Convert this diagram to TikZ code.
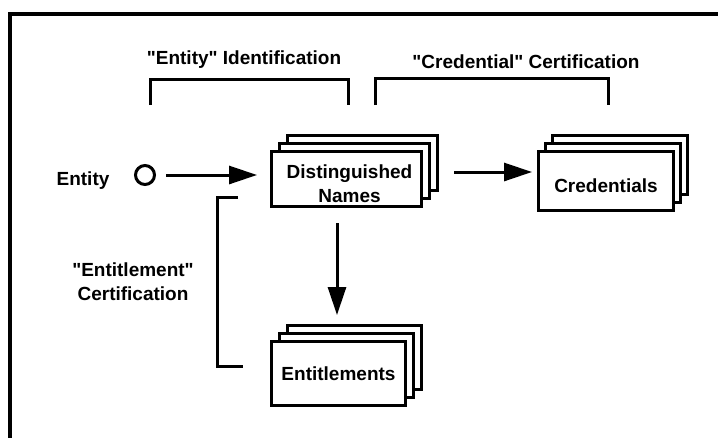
\documentclass[tikz,border=0pt]{standalone}
\usepackage{fontspec}
\setmainfont{Liberation Sans}[Ligatures=TeXOff]
\usetikzlibrary{arrows.meta}

\begin{document}
\begin{tikzpicture}[x=1pt, y=-1pt,
  every node/.style={font=\fontsize{19}{24}\selectfont\bfseries},
  card/.style={draw, line width=3pt, fill=white, inner sep=0pt, align=center},
  bracket/.style={line width=3pt, line join=miter},
  arr/.style={line width=3pt, -{Triangle[length=28pt,width=18pt]}},
  txt/.style={anchor=base, align=center}]

  % page and outer frame
  \fill[white] (0,0) rectangle (718,437);
  \useasboundingbox (0,0) rectangle (718,437);
  \draw[line width=4pt, line join=miter] (10,445) -- (10,14) -- (725,14);

  % headings over the brackets
  \node[txt] (hdid) at (244,64) {"Entity" Identification};
  \node[txt] (hdcr) at (526,68) {"Credential" Certification};
  \draw[bracket] (150,105) -- (150,79) -- (348,79) -- (348,105);
  \draw[bracket] (375,105) -- (375,78) -- (608,78) -- (608,105);

  % entity
  \node[txt] (entlbl) at (83,185) {Entity};
  \node[circle, draw, line width=3pt, minimum size=19pt, inner sep=0pt] (circ) at (145,175) {};

  % distinguished names stack
  \node[card, minimum width=150pt, minimum height=55pt] (dnb2) at (362.5,163) {};
  \node[card, minimum width=150pt, minimum height=55pt] (dnb1) at (354.5,171) {};
  \node[card, minimum width=150pt, minimum height=55pt,
        label={[align=center, yshift=-5pt, xshift=3pt]center:{Distinguished\\Names}}] (dn) at (346.5,179) {};

  % credentials stack
  \node[card, minimum width=135pt, minimum height=59pt] (crb2) at (620,165) {};
  \node[card, minimum width=135pt, minimum height=59pt] (crb1) at (613,173) {};
  \node[card, minimum width=135pt, minimum height=59pt, text height=22pt, text depth=0pt] (cred) at (606,181) {Credentials};

  % entitlements stack
  \node[card, minimum width=134pt, minimum height=64pt] (enb2) at (354.5,357.5) {};
  \node[card, minimum width=134pt, minimum height=64pt] (enb1) at (346.5,365.5) {};
  \node[card, minimum width=134pt, minimum height=64pt] (ent) at (338.5,373.5) {Entitlements};

  % entitlement certification bracket
  \node[txt] (entcert) at (133,300) {"Entitlement"\\Certification};
  \draw[bracket] (238,197) -- (217,197) -- (217,366) -- (243,366);

  % flow arrows
  \draw[arr, shorten <=10pt, shorten >=13pt] (circ.east) -- (circ.east -| dn.west);
  \draw[arr, shorten <=31pt, shorten >=5pt] ([yshift=7pt]dn.east) -- ([yshift=7pt]dn.east -| cred.west);
  \draw[arr, shorten <=15pt, shorten >=25pt] ([xshift=-9.5pt]dn.south) -- ([xshift=-9.5pt]dn.south |- ent.north);
\end{tikzpicture}
\end{document}
